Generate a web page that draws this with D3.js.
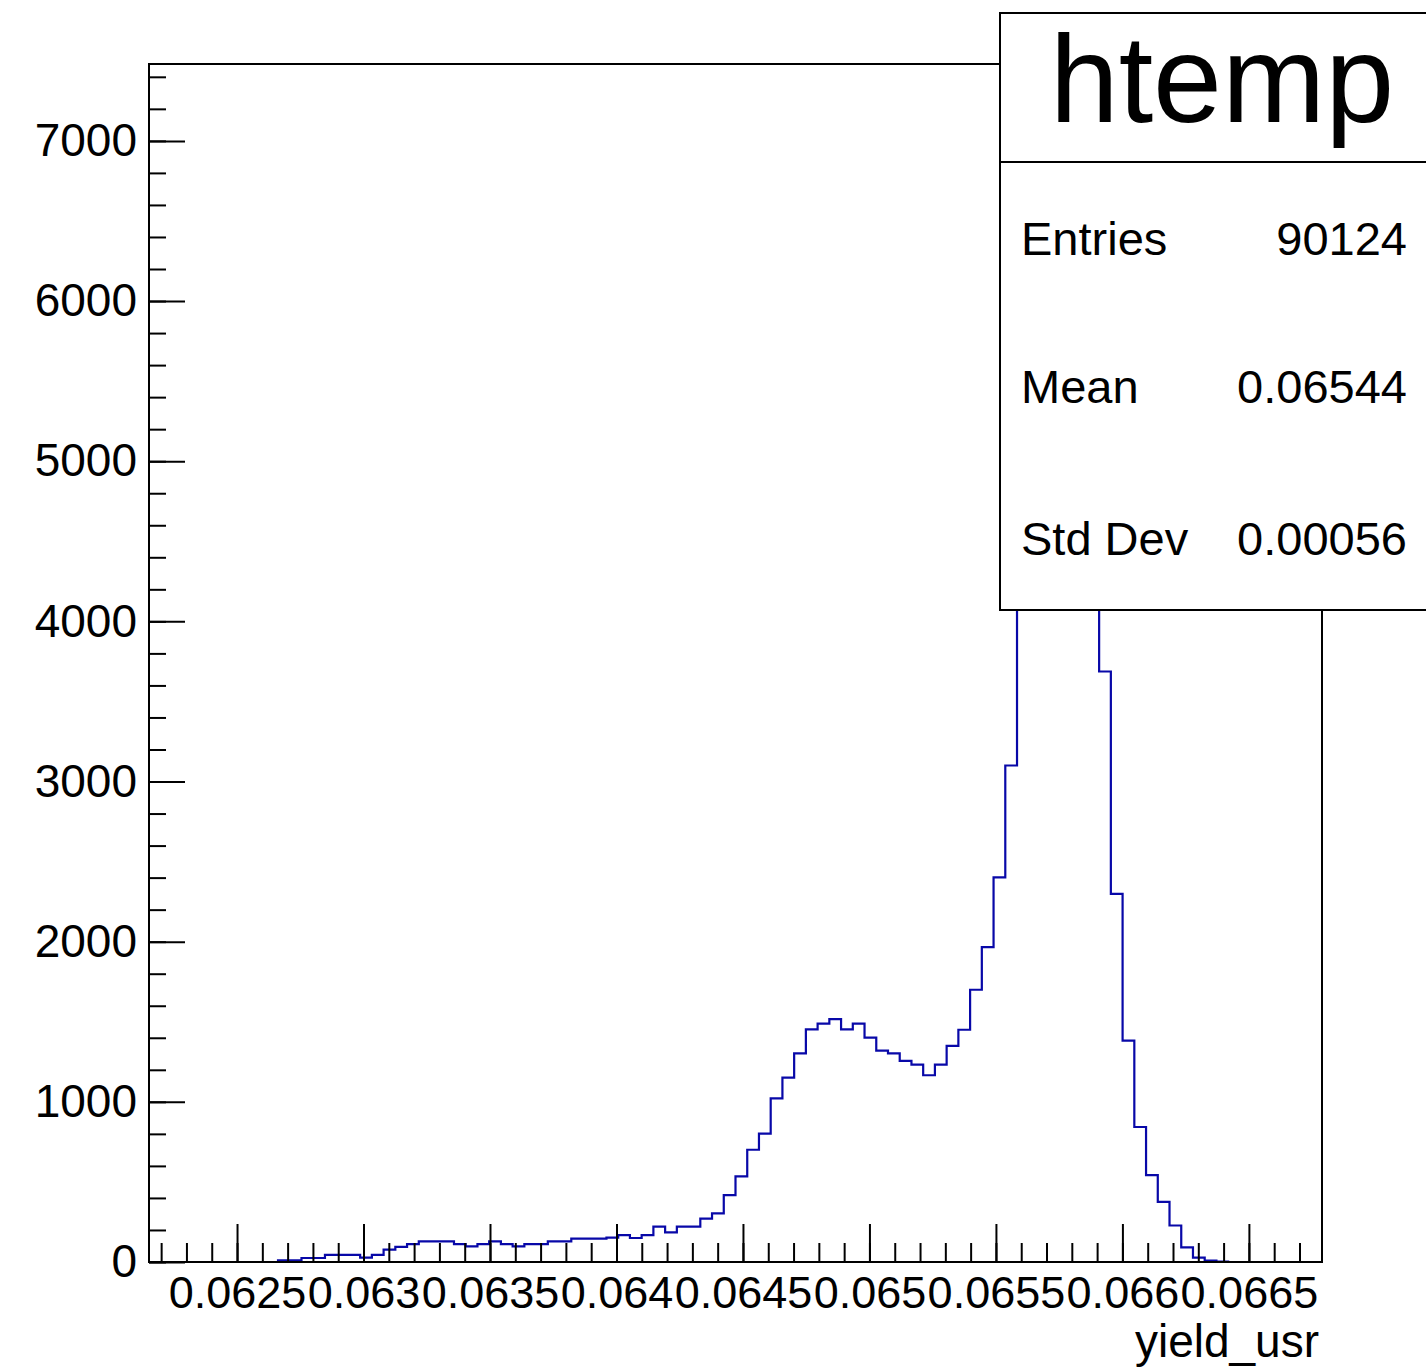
<!DOCTYPE html>
<html>
<head>
<meta charset="utf-8">
<script src="https://cdn.jsdelivr.net/npm/d3@7"></script>
<style>
  body { margin: 0; background: #fff; }
  svg { display: block; font-family: "Liberation Sans", Arial, sans-serif; }
</style>
</head>
<body>
<svg id="chart"></svg>
<script>
const WIDTH = 1426;
const HEIGHT = 1371;
const FRAME = { left: 149, right: 1322, top: 64, bottom: 1262 };
const LINE_COLOR = "#0808a8";

// histogram: 100 bins between xMin and xMax
const xMin = 0.062152;
const xMax = 0.066789;
const binCounts = [
   0, 0, 0, 0, 0, 0, 0, 0, 0, 0,
   0, 10, 10, 25, 25, 44, 44, 44, 27, 44,
   77, 94, 112, 129, 129, 129, 112, 98, 112, 129,
   112, 98, 112, 112, 129, 129, 146, 146, 146, 152,
   168, 150, 168, 221, 185, 221, 221, 271, 304, 418,
   535, 701, 801, 1022, 1151, 1303, 1453, 1488, 1517, 1453,
   1488, 1401, 1320, 1303, 1256, 1232, 1166, 1232, 1350, 1450,
   1700, 1966, 2402, 3100, 4800, 6300, 6900, 7120, 6700, 5600,
   4400, 3687, 2298, 1382, 843, 543, 376, 228, 91, 27,
   8, 2, 0, 0, 0, 0, 0, 0, 0, 0
];
const yMax = 7480;

const xMajorTicks = [0.0625, 0.063, 0.0635, 0.064, 0.0645, 0.065, 0.0655, 0.066, 0.0665];
const xMajorLabels = ["0.0625", "0.063", "0.0635", "0.064", "0.0645", "0.065", "0.0655", "0.066", "0.0665"];
const yMajorTicks = [0, 1000, 2000, 3000, 4000, 5000, 6000, 7000];

const statsTitle = "htemp";
const statsNames = ["Entries", "Mean", "Std Dev"];
const statsValues = ["90124", "0.06544", "0.00056"];
const xTitle = "yield_usr";

const svg = d3.select("#chart").attr("width", WIDTH).attr("height", HEIGHT);

const xScale = d3.scaleLinear().domain([xMin, xMax]).range([FRAME.left, FRAME.right]);
const yScale = d3.scaleLinear().domain([0, yMax]).range([FRAME.bottom, FRAME.top]);

// step outline of the histogram
const binWidth = (xMax - xMin) / binCounts.length;
const pts = [];
binCounts.forEach((c, i) => {
   pts.push([xMin + i * binWidth, c]);
   pts.push([xMin + (i + 1) * binWidth, c]);
});
svg.append("path")
   .datum(pts)
   .attr("fill", "none")
   .attr("stroke", LINE_COLOR)
   .attr("stroke-width", 2.2)
   .attr("d", d3.line().x(d => xScale(d[0])).y(d => yScale(d[1])));

// minor ticks
const xMinor = d3.range(-3, 43).map(k => 0.0625 + k * 0.0001)
   .filter(v => v >= xMin && v <= xMax);
const yMinor = d3.range(0, yMax + 1, 200);

svg.append("g")
   .attr("transform", `translate(0,${FRAME.bottom})`)
   .call(d3.axisBottom(xScale).tickValues(xMinor).tickFormat("").tickSizeInner(-19).tickSizeOuter(0))
   .call(g => g.select(".domain").remove());

svg.append("g")
   .attr("transform", `translate(${FRAME.left},0)`)
   .call(d3.axisLeft(yScale).tickValues(yMinor).tickFormat("").tickSizeInner(-17).tickSizeOuter(0))
   .call(g => g.select(".domain").remove());

// major ticks + labels
const axisX = svg.append("g")
   .attr("transform", `translate(0,${FRAME.bottom})`)
   .call(d3.axisBottom(xScale).tickValues(xMajorTicks)
      .tickFormat((d, i) => xMajorLabels[i]).tickSizeInner(-38).tickSizeOuter(0).tickPadding(14))
   .call(g => g.select(".domain").remove());
axisX.selectAll("text").attr("font-size", 45).attr("fill", "#000").attr("font-family", "Liberation Sans, Arial, sans-serif");

const axisY = svg.append("g")
   .attr("transform", `translate(${FRAME.left},0)`)
   .call(d3.axisLeft(yScale).tickValues(yMajorTicks).tickFormat(d3.format("d"))
      .tickSizeInner(-36).tickSizeOuter(0).tickPadding(12))
   .call(g => g.select(".domain").remove());
axisY.selectAll("text").attr("font-size", 46).attr("fill", "#000").attr("font-family", "Liberation Sans, Arial, sans-serif");

svg.selectAll(".tick line").attr("stroke", "#000").attr("stroke-width", 2);

// frame
svg.append("rect")
   .attr("x", FRAME.left).attr("y", FRAME.top)
   .attr("width", FRAME.right - FRAME.left).attr("height", FRAME.bottom - FRAME.top)
   .attr("fill", "none").attr("stroke", "#000").attr("stroke-width", 2);

// x axis title
svg.append("text")
   .attr("x", 1319).attr("y", 1357)
   .attr("text-anchor", "end")
   .attr("font-size", 46)
   .text(xTitle);

// stats box
const stats = svg.append("g");
stats.append("rect")
   .attr("x", 1000).attr("y", 13).attr("width", 440).attr("height", 597)
   .attr("fill", "#fff").attr("stroke", "#000").attr("stroke-width", 2);
stats.append("line")
   .attr("x1", 1000).attr("x2", 1440).attr("y1", 162).attr("y2", 162)
   .attr("stroke", "#000").attr("stroke-width", 2);
stats.append("text")
   .attr("x", 1222).attr("y", 122)
   .attr("text-anchor", "middle")
   .attr("font-size", 124)
   .text(statsTitle);
const rowY = [255, 403, 555];
statsNames.forEach((name, i) => {
   stats.append("text")
      .attr("x", 1021).attr("y", rowY[i])
      .attr("font-size", 47)
      .text(name);
   stats.append("text")
      .attr("x", 1407).attr("y", rowY[i])
      .attr("text-anchor", "end")
      .attr("font-size", 47)
      .text(statsValues[i]);
});
</script>
</body>
</html>
